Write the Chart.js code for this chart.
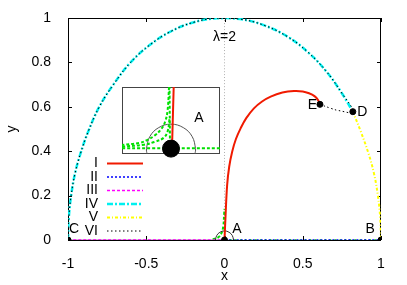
<!DOCTYPE html>
<html>
<head>
<meta charset="utf-8">
<script src="https://cdn.jsdelivr.net/npm/chart.js@4/dist/chart.umd.min.js"></script>
<style>
  html, body { margin: 0; padding: 0; background: #fff; }
  #caja { position: relative; width: 407px; height: 285px; }
  #principal { position: absolute; left: 0; top: 0; }
  #detalle { position: absolute; left: 112px; top: 77px; }
</style>
</head>
<body>
<div id="caja">
  <canvas id="principal" width="407" height="285"></canvas>
  <canvas id="detalle" width="118" height="87"></canvas>
</div>
<script>
// ticks
const xTicks = [-1, -0.5, 0, 0.5, 1];
const yTicks = [0, 0.2, 0.4, 0.6, 0.8, 1];

// I : A -> E
const curvaIx = [0, 0.006, 0.017, 0.03, 0.049, 0.073, 0.103, 0.14, 0.188, 0.24, 0.295, 0.37, 0.444, 0.5, 0.54, 0.575, 0.598, 0.61];
const curvaIy = [0, 0.098, 0.248, 0.33, 0.398, 0.455, 0.503, 0.55, 0.593, 0.624, 0.646, 0.664, 0.671, 0.669, 0.661, 0.648, 0.63, 0.611];
// II : A -> B, III : C -> A
const curvaIIx = [0, 1];
const curvaIIy = [0, 0];
const curvaIIIx = [-1, 0];
const curvaIIIy = [0, 0];
// IV : C -> D over the arc
const curvaIVx = [-1, -0.995, -0.98, -0.955, -0.92, -0.87, -0.8, -0.71, -0.6, -0.48, -0.35, -0.2, -0.05, 0.1, 0.25, 0.4, 0.53, 0.65, 0.75, 0.82];
const curvaIVy = [0, 0.1, 0.2, 0.3, 0.39, 0.49, 0.6, 0.7, 0.8, 0.877, 0.937, 0.98, 0.999, 0.995, 0.968, 0.917, 0.848, 0.76, 0.661, 0.578];
// V : D -> B
const curvaVx = [0.82, 0.87, 0.92, 0.955, 0.98, 0.995, 1];
const curvaVy = [0.578, 0.49, 0.39, 0.3, 0.2, 0.1, 0];
// VI : C -> D -> E
const curvaVIx = curvaIVx.concat([0.73, 0.68, 0.61]);
const curvaVIy = curvaIVy.concat([0.583, 0.593, 0.611]);
// green branch near A
const verdeX = [-0.075, -0.04, -0.02, -0.008, -0.002, 0];
const verdeY = [0.003, 0.012, 0.03, 0.06, 0.12, 0.14];
const verdeBaseX = [0, 1];
const verdeBaseY = [0, 0];
// small arc around A
const arcoAx = [0.058, 0.05, 0.029, 0, -0.029, -0.05, -0.058];
const arcoAy = [0, 0.02, 0.035, 0.041, 0.035, 0.02, 0];
// lambda = 2 line and grey base
const lambdaX = [0, 0];
const lambdaY = [0, 1];
const grisX = [-1, 0];
const grisY = [0, 0];
// fixed points C, A, B, D, E
const puntosX = [-1, 0, 1, 0.82, 0.61];
const puntosY = [0, 0, 0, 0.578, 0.611];

// inset (zoom around A)
const zArcoX = [0.49, 0.5, 0.43, 0.25, 0, -0.25, -0.43, -0.5, -0.49];
const zArcoY = [-0.11, 0, 0.25, 0.43, 0.5, 0.43, 0.25, 0, -0.11];
const zRojoX = [0.02, 0.055];
const zRojoY = [0, 1.26];
const zVertX = [-0.02, -0.03];
const zVertY = [0, 1.26];
const zHorX = [-1, 1];
const zHorY = [0.01, 0.01];
const zHip1X = [-0.04, -0.07, -0.12, -0.2, -0.33, -0.5, -0.63, -1];
const zHip1Y = [1.26, 0.78, 0.55, 0.4, 0.27, 0.17, 0.12, 0.075];
const zHip2X = [-0.03, -0.07, -0.15, -0.33, -0.55, -1];
const zHip2Y = [0.6, 0.35, 0.22, 0.14, 0.08, 0.04];

const etiquetas = [
  { t: 'C', x: -0.962, y: 0.05 },
  { t: 'A', x: 0.079, y: 0.05 },
  { t: 'B', x: 0.931, y: 0.05 },
  { t: 'D', x: 0.88, y: 0.577 },
  { t: 'E', x: 0.561, y: 0.609 },
  { t: 'λ=2', x: 0, y: 0.914 }
];

const FUENTE = '"Liberation Sans", Arial, Helvetica, sans-serif';
Chart.defaults.font.family = FUENTE;
Chart.defaults.font.size = 14;
Chart.defaults.color = '#000';

const pares = (xs, ys) => xs.map((x, i) => ({ x, y: ys[i] }));

function serie(label, xs, ys, color, ancho, trazo, orden, extra) {
  return Object.assign({
    label,
    data: pares(xs, ys),
    borderColor: color,
    backgroundColor: color,
    borderWidth: ancho,
    borderDash: trazo,
    showLine: true,
    pointRadius: 0,
    tension: 0.4,
    fill: false,
    order: orden
  }, extra || {});
}

const marco = {
  id: 'marco',
  beforeDatasetsDraw(chart) {
    const { ctx, chartArea: a, scales: { x, y } } = chart;
    ctx.save();
    ctx.strokeStyle = '#000';
    ctx.lineWidth = 1;
    ctx.strokeRect(a.left + 0.5, a.top + 0.5, a.right - a.left - 1, a.bottom - a.top);
    ctx.beginPath();
    xTicks.forEach(v => {
      const px = Math.round(x.getPixelForValue(v)) + 0.5;
      ctx.moveTo(px, a.bottom); ctx.lineTo(px, a.bottom - 4);
      ctx.moveTo(px, a.top); ctx.lineTo(px, a.top + 4);
    });
    yTicks.forEach(v => {
      const py = Math.round(y.getPixelForValue(v)) + 0.5;
      ctx.moveTo(a.left, py); ctx.lineTo(a.left + 4, py);
      ctx.moveTo(a.right, py); ctx.lineTo(a.right - 4, py);
    });
    ctx.stroke();
    ctx.restore();
  }
};

const textos = {
  id: 'textos',
  afterDraw(chart) {
    const { ctx, scales: { x, y } } = chart;
    ctx.save();
    ctx.font = '14px ' + FUENTE;
    ctx.fillStyle = '#000';
    ctx.textAlign = 'center';
    ctx.textBaseline = 'middle';
    etiquetas.forEach(e => ctx.fillText(e.t, x.getPixelForValue(e.x), y.getPixelForValue(e.y)));

    // legend, gnuplot style
    const items = chart.data.datasets.filter(d => d.enLeyenda);
    ctx.textAlign = 'right';
    items.forEach((d, i) => {
      const yy = 163.5 + i * 13.5;
      ctx.fillText(d.label, 98, yy);
      ctx.strokeStyle = d.borderColor;
      ctx.lineWidth = d.borderWidth;
      ctx.setLineDash(d.borderDash || []);
      ctx.beginPath();
      ctx.moveTo(107, yy);
      ctx.lineTo(143, yy);
      ctx.stroke();
    });
    ctx.restore();
  }
};

new Chart(document.getElementById('principal'), {
  type: 'scatter',
  data: {
    datasets: [
      serie('puntos', puntosX, puntosY, '#000', 1, [], 0, { showLine: false, pointRadius: 3, pointBackgroundColor: '#000', pointBorderColor: '#000' }),
      serie('I', curvaIx, curvaIy, '#f01a00', 2, [], 2, { enLeyenda: true }),
      serie('II', curvaIIx, curvaIIy, '#0000ff', 1.5, [2, 2], 6, { enLeyenda: true }),
      serie('III', curvaIIIx, curvaIIIy, '#ff00ff', 1.5, [3, 2], 7, { enLeyenda: true }),
      serie('IV', curvaIVx, curvaIVy, '#00f0f0', 2.5, [6, 2, 2, 2], 4, { enLeyenda: true }),
      serie('V', curvaVx, curvaVy, '#ffff00', 2, [3, 2, 1, 2], 3, { enLeyenda: true }),
      serie('VI', curvaVIx, curvaVIy, '#000', 1, [1.5, 2.5], 1, { enLeyenda: true }),
      serie('verde', verdeX, verdeY, '#00dd00', 2, [3, 2], 8),
      serie('verdeBase', verdeBaseX, verdeBaseY, '#00cc00', 1.5, [2, 3], 9),
      serie('arcoA', arcoAx, arcoAy, '#333', 1, [], 5),
      serie('lambda', lambdaX, lambdaY, '#b0b0b0', 1, [1, 2], 10),
      serie('gris', grisX, grisY, '#999', 1, [], 11)
    ]
  },
  options: {
    responsive: false,
    animation: false,
    events: [],
    layout: { padding: { left: 0, right: 26, top: 18, bottom: 0 } },
    plugins: { legend: { display: false }, tooltip: { enabled: false } },
    scales: {
      x: {
        type: 'linear', min: -1, max: 1,
        grid: { display: false }, border: { display: false },
        afterBuildTicks: s => { s.ticks = xTicks.map(v => ({ value: v })); },
        afterFit: s => { s.height = 45; },
        ticks: { padding: 8, callback: v => String(v), maxRotation: 0 },
        title: { display: true, text: 'x', padding: { top: 0, bottom: 0 } }
      },
      y: {
        type: 'linear', min: 0, max: 1,
        grid: { display: false }, border: { display: false },
        afterBuildTicks: s => { s.ticks = yTicks.map(v => ({ value: v })); },
        afterFit: s => { s.width = 68; },
        ticks: { padding: 9, callback: v => String(v) },
        title: { display: true, text: 'y', padding: { top: 4, bottom: 0 } }
      }
    }
  },
  plugins: [marco, textos]
});

// inset
const fondoDetalle = {
  id: 'fondoDetalle',
  beforeDatasetsDraw(chart) {
    const { ctx, chartArea: a } = chart;
    ctx.save();
    ctx.fillStyle = '#fff';
    ctx.fillRect(a.left, a.top, a.right - a.left, a.bottom - a.top);
    ctx.strokeStyle = '#444';
    ctx.lineWidth = 1;
    ctx.strokeRect(a.left + 0.5, a.top + 0.5, a.right - a.left - 1, a.bottom - a.top - 1);
    ctx.restore();
  },
  afterDraw(chart) {
    const { ctx, scales: { x, y } } = chart;
    ctx.save();
    ctx.font = '14px ' + FUENTE;
    ctx.fillStyle = '#000';
    ctx.textAlign = 'center';
    ctx.textBaseline = 'middle';
    ctx.fillText('A', x.getPixelForValue(0.571), y.getPixelForValue(0.616));
    ctx.restore();
  }
};

new Chart(document.getElementById('detalle'), {
  type: 'scatter',
  data: {
    datasets: [
      serie('disco', [0], [0], '#000', 1, [], 0, { showLine: false, pointRadius: 8.5, pointBackgroundColor: '#000', pointBorderColor: '#000', clip: false }),
      serie('rojo', zRojoX, zRojoY, '#f01a00', 2, [], 1),
      serie('vert', zVertX, zVertY, '#00e000', 2, [3, 2], 2),
      serie('hor', zHorX, zHorY, '#00e000', 2, [3, 2], 3),
      serie('hip1', zHip1X, zHip1Y, '#00e000', 2, [3, 2], 4),
      serie('hip2', zHip2X, zHip2Y, '#00e000', 2, [3, 2], 5),
      serie('arco', zArcoX, zArcoY, '#555', 1, [], 6)
    ]
  },
  options: {
    responsive: false,
    animation: false,
    events: [],
    layout: { padding: 10 },
    plugins: { legend: { display: false }, tooltip: { enabled: false } },
    scales: {
      x: { type: 'linear', min: -1, max: 1, display: false },
      y: { type: 'linear', min: -0.11, max: 1.26, display: false }
    }
  },
  plugins: [fondoDetalle]
});
</script>
</body>
</html>
